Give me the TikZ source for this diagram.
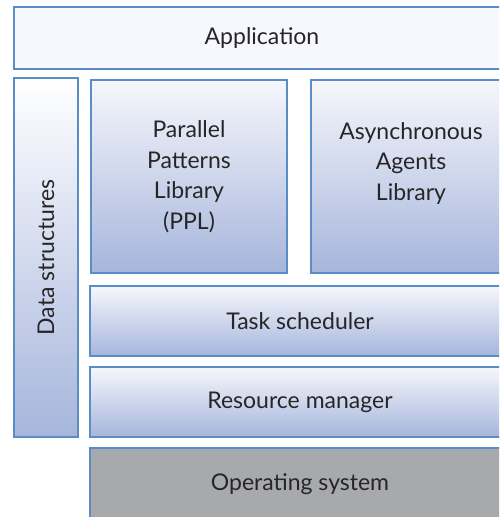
\documentclass[tikz,border=0pt]{standalone}
\usepackage{fontspec}
\setmainfont{Lato}
\definecolor{edge}{HTML}{5A8DC3}
\definecolor{lite}{HTML}{F6F7FC}
\definecolor{deep}{HTML}{A6B5DC}
\definecolor{osgray}{HTML}{A8A9AC}
\begin{document}
\begin{tikzpicture}
        [%%%%%%%%%%%%%%%%%%%%%%%%%%%%%%
        x=1pt, y=-1pt,
        layer/.style={rectangle,draw=edge,line width=2.8pt,inner sep=0pt,
          align=center,text=black!85,font=\fontsize{23}{30.5}\selectfont},
        blue/.style={layer,top color=lite,bottom color=deep},
        ]%%%%%%%%%%%%%%%%%%%%%%%%%%%%%%
        
        \useasboundingbox (0,0) rectangle (499,517);
        \clip (0,0) rectangle (499,517);
        
        \node[layer,fill=white!97!blue,minimum width=496pt,minimum height=62pt] (app) at (262,38) {Application};
        
        \node[blue,top color=white,minimum width=64pt,minimum height=359pt] (data) at (46,257.5)
          {\rotatebox{90}{Data structures}};
        
        \node[blue,minimum width=196pt,minimum height=193pt] (ppl) at (189,176.5)
          {Parallel\\Patterns\\Library\\(PPL)};
        \node[blue,minimum width=200pt,minimum height=193pt] (agents) at (411,176.5)
          {Asynchronous\\Agents\\Library\\\mbox{}};
        
        \node[blue,minimum width=420pt,minimum height=70pt] (task) at (300,321) {Task scheduler};
        \node[blue,minimum width=420pt,minimum height=70pt] (resource) at (300,402) {Resource manager};
        \node[layer,fill=osgray,minimum width=420pt,minimum height=72pt] (os) at (300,484) {Operating system};
      \end{tikzpicture}
\end{document}
